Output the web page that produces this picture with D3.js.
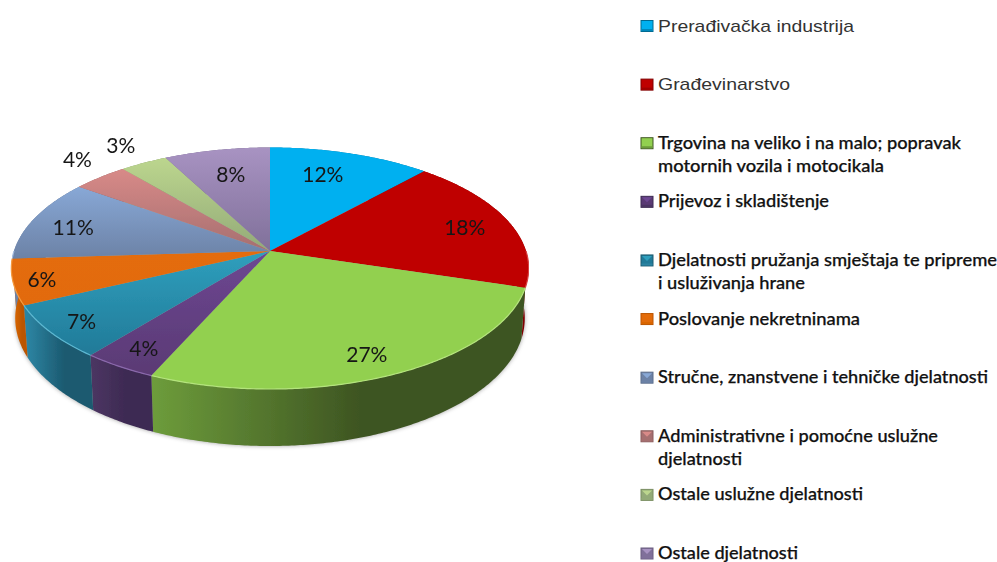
<!DOCTYPE html>
<html>
<head>
<meta charset="utf-8">
<script src="https://cdnjs.cloudflare.com/ajax/libs/d3/7.8.5/d3.min.js"></script>
<style>
  html, body { margin: 0; background: #fff; }
  svg { display: block; }
</style>
</head>
<body>
<svg id="chart" width="997" height="562"></svg>
<script>
// estimated from slice boundaries, labels show the rounded figure
const categories = [
  "Prerađivačka industrija",
  "Građevinarstvo",
  "Trgovina na veliko i na malo; popravak motornih vozila i motocikala",
  "Prijevoz i skladištenje",
  "Djelatnosti pružanja smještaja te pripreme i usluživanja hrane",
  "Poslovanje nekretninama",
  "Stručne, znanstvene i tehničke djelatnosti",
  "Administrativne i pomoćne uslužne djelatnosti",
  "Ostale uslužne djelatnosti",
  "Ostale djelatnosti",
];
const values = [11.6, 18.2, 26.8, 4.1, 7.2, 6.1, 11, 4, 3.4, 7.6];
const valueLabels = ["12%", "18%", "27%", "4%", "7%", "6%", "11%", "4%", "3%", "8%"];

// legend lines and the width each one takes in the picture
const legendLines = [
  ["Prerađivačka industrija"],
  ["Građevinarstvo"],
  ["Trgovina na veliko i na malo; popravak", "motornih vozila i motocikala"],
  ["Prijevoz i skladištenje"],
  ["Djelatnosti pružanja smještaja te pripreme", "i usluživanja hrane"],
  ["Poslovanje nekretninama"],
  ["Stručne, znanstvene i tehničke djelatnosti"],
  ["Administrativne i pomoćne uslužne", "djelatnosti"],
  ["Ostale uslužne djelatnosti"],
  ["Ostale djelatnosti"],
];
const legendWidths = [[196], [132], [303, 226], [171], [339, 147], [202], [330], [280, 84], [205], [140]];

const topLight = ["#00b0f0", "#bf0000", "#92d050", "#6d4792", "#2f9fbd", "#e46c0a", "#88a8d6", "#d88a88", "#bcd68e", "#a893c2"];
const topDark = ["#00b0f0", "#bf0000", "#92d050", "#5a3a74", "#217a98", "#e26b0a", "#6c82a6", "#a66f70", "#93aa78", "#80709a"];
const sideLight = ["#0088bb", "#a00000", "#6d9c3b", "#4b3562", "#2c84a2", "#d86500", "#6c82a6", "#a66f70", "#93aa78", "#80709a"];
const sideDark = ["#006a92", "#800000", "#3e5522", "#3d2a52", "#1c5a70", "#bb5500", "#5a6c8a", "#8a5c5c", "#7a8e62", "#6a5c80"];
const rimColor = ["#40c4f4", "#d84040", "#b4e47c", "#8a68ac", "#5cb8d2", "#f59a40", "#a4bce0", "#e0a4a4", "#d0e4ac", "#c0b0d4"];

// where each value label sits on the disc: radius and a small turn off the slice middle
const labelRadius = [0.753, 0.811, 0.844, 0.854, 0.868, 0.891, 0.819, 1.224, 1.233, 0.746];
const labelTurn = [-3.3, 0.5, 1, 0, 0, 0, -1.4, 3, 0.6, 0.6];

const cx = 270, cy = 251, R = 256, k = 1 / 7, squash = 118.3;
const x = d3.scaleLinear().domain([-1, 1]).range([cx - R, cx + R]);
const y = d3.scaleLinear().domain([-1, 1]).range([cy + squash, cy - squash]);

// perspective view of a point on the disc, u to the right and v away from the viewer
function project(u, v) {
  const w = 1 + k * v;
  return [x(u / w), y(v / w)];
}
function projectLower(u, v) {
  const [px, py] = project(u, v);
  return [cx + (px - cx) * 0.985, cy + (py - cy) * 1.058 + 49];
}
function rim(a0, a1, proj) {
  const n = Math.max(2, Math.ceil((a1 - a0) / 0.01));
  return d3.range(n + 1).map((i) => {
    const a = a0 + ((a1 - a0) * i) / n;
    return proj(Math.sin(a), Math.cos(a));
  });
}

const pie = d3.pie().sort(null).startAngle(0).endAngle(2 * Math.PI);
const slices = pie(values);
const line = d3.line();

const svg = d3.select("#chart");
const defs = svg.append("defs");
defs.append("filter").attr("id", "shadow")
  .attr("x", "-5%").attr("y", "-5%").attr("width", "110%").attr("height", "115%")
  .append("feGaussianBlur").attr("stdDeviation", 2.2);
defs.append("filter").attr("id", "soft").append("feGaussianBlur").attr("stdDeviation", 0.6);
defs.append("filter").attr("id", "edge").append("feGaussianBlur").attr("stdDeviation", 0.35);

slices.forEach((d, i) => {
  const top = [project(0, 0), ...rim(d.startAngle, d.endAngle, project)];
  const low = rim(d.startAngle, d.endAngle, projectLower);
  const yRange = d3.extent(top, (p) => p[1]);
  const xRange = d3.extent(low, (p) => p[0]);

  const gt = defs.append("linearGradient").attr("id", `top-${i}`)
    .attr("gradientUnits", "userSpaceOnUse")
    .attr("x1", 0).attr("x2", 0).attr("y1", yRange[0]).attr("y2", yRange[1]);
  gt.append("stop").attr("offset", 0).attr("stop-color", topLight[i]);
  gt.append("stop").attr("offset", 1).attr("stop-color", topDark[i]);

  const gs = defs.append("linearGradient").attr("id", `side-${i}`)
    .attr("gradientUnits", "userSpaceOnUse")
    .attr("x1", xRange[0]).attr("x2", xRange[1]).attr("y1", 0).attr("y2", 0);
  gs.append("stop").attr("offset", 0).attr("stop-color", sideLight[i]);
  gs.append("stop").attr("offset", 0.56).attr("stop-color", sideDark[i]);
  gs.append("stop").attr("offset", 1).attr("stop-color", sideDark[i]);
});

// soft shadow under the lower edge
svg.append("path")
  .attr("d", line(rim(0, 2 * Math.PI, projectLower)) + "Z")
  .attr("fill", "#555")
  .attr("opacity", 0.55)
  .attr("filter", "url(#shadow)");

const pieGroup = svg.append("g").attr("filter", "url(#edge)");

pieGroup.selectAll("path.side")
  .data(slices)
  .join("path")
  .attr("class", "side")
  .attr("fill", (d) => `url(#side-${d.index})`)
  .attr("d", (d) => {
    const upper = rim(d.startAngle, d.endAngle, project);
    const lower = rim(d.startAngle, d.endAngle, projectLower).reverse();
    return line([...upper, ...lower]) + "Z";
  });

pieGroup.selectAll("path.top")
  .data(slices)
  .join("path")
  .attr("class", "top")
  .attr("fill", (d) => `url(#top-${d.index})`)
  .attr("d", (d) => line([project(0, 0), ...rim(d.startAngle, d.endAngle, project)]) + "Z");

// pale bevel along the front rim
pieGroup.selectAll("path.bevel")
  .data(slices.filter((d) => d.endAngle > Math.PI / 2 && d.startAngle < (3 * Math.PI) / 2))
  .join("path")
  .attr("class", "bevel")
  .attr("fill", "none")
  .attr("stroke", (d) => rimColor[d.index])
  .attr("stroke-width", 1.2)
  .attr("filter", "url(#soft)")
  .attr("d", (d) => line(rim(
    Math.max(d.startAngle, Math.PI / 2),
    Math.min(d.endAngle, (3 * Math.PI) / 2),
    project
  )));

svg.append("g").attr("filter", "url(#edge)")
  .selectAll("text.value")
  .data(slices)
  .join("text")
  .attr("class", "value")
  .attr("text-anchor", "middle")
  .attr("dominant-baseline", "central")
  .attr("font-family", "Lato, sans-serif")
  .attr("font-size", 21)
  .attr("fill", "#161616")
  .attr("transform", (d, i) => {
    const a = (d.startAngle + d.endAngle) / 2 + (labelTurn[i] * Math.PI) / 180;
    const [px, py] = project(labelRadius[i] * Math.sin(a), labelRadius[i] * Math.cos(a));
    return `translate(${px},${py})`;
  })
  .text((d, i) => valueLabels[i]);

// legend
const rowY = d3.scaleLinear().domain([0, categories.length - 1]).range([26, 553.5]);
const legend = svg.selectAll("g.legend")
  .data(categories)
  .join("g")
  .attr("class", "legend")
  .attr("transform", (d, i) => `translate(641,${rowY(i)})`);

legend.append("rect")
  .attr("x", 0).attr("y", -5.5).attr("width", 12).attr("height", 11)
  .attr("fill", (d, i) => topDark[i])
  .attr("stroke", (d, i) => sideDark[i])
  .attr("stroke-width", 1);
legend.append("path")
  .attr("d", "M1,-4.5H11L6,0.5Z")
  .attr("fill", (d, i) => topLight[i]);
legend.append("path")
  .attr("d", "M0.5,5V3H11.5V5Z")
  .attr("fill", (d, i) => sideLight[i]);

legend.each(function (d, i) {
  const isPlain = i < 2;
  d3.select(this).selectAll("text")
    .data(legendLines[i])
    .join("text")
    .attr("x", 17)
    .attr("y", (_, j) => j * 23 + 5.5)
    .attr("font-family", isPlain ? "'Liberation Sans', sans-serif" : "Lato, sans-serif")
    .attr("font-size", 17)
    .attr("font-weight", isPlain ? 400 : 500)
    .attr("fill", isPlain ? "#333" : "#111")
    .attr("stroke", isPlain ? "none" : "#111")
    .attr("stroke-width", isPlain ? 0 : 0.25)
    .attr("textLength", (_, j) => legendWidths[i][j])
    .attr("lengthAdjust", "spacingAndGlyphs")
    .text((t) => t);
});
</script>
</body>
</html>
